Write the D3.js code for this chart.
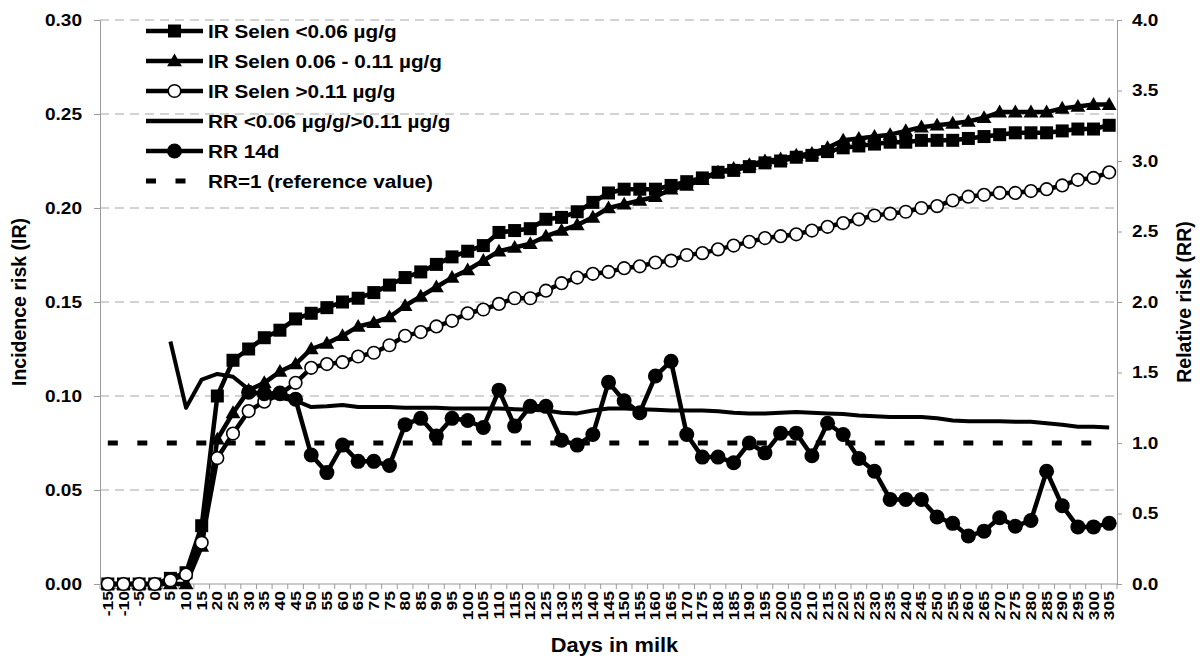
<!DOCTYPE html>
<html><head><meta charset="utf-8">
<script src="https://cdn.jsdelivr.net/npm/d3@7"></script>
<style>
html,body{margin:0;padding:0;background:#fff;}
svg{display:block;font-family:"Liberation Sans",Arial,sans-serif;font-weight:bold;}
</style></head><body>
<svg id="chart" width="1200" height="663"></svg>
<script>
// ---------- data ----------
const categories = [-15,-10,-5,0,5,10,15,20,25,30,35,40,45,50,55,60,65,70,75,80,85,90,95,100,105,110,115,120,125,130,135,140,145,150,155,160,165,170,175,180,185,190,195,200,205,210,215,220,225,230,235,240,245,250,255,260,265,270,275,280,285,290,295,300,305];

const irLow = [0,0,0,0,0.003,0.006,0.031,0.100,0.119,0.125,0.131,0.135,0.141,0.144,0.147,0.150,0.152,0.155,0.159,0.163,0.166,0.170,0.174,0.177,0.180,0.187,0.188,0.189,0.194,0.195,0.198,0.203,0.208,0.210,0.210,0.210,0.212,0.214,0.216,0.219,0.220,0.222,0.224,0.225,0.227,0.228,0.230,0.232,0.233,0.234,0.235,0.235,0.236,0.236,0.236,0.237,0.238,0.239,0.240,0.240,0.240,0.241,0.242,0.242,0.244];

const irMid = [0,0,0,0,0,0,0.020,0.077,0.091,0.103,0.107,0.113,0.117,0.125,0.128,0.132,0.137,0.139,0.142,0.148,0.153,0.158,0.163,0.167,0.172,0.177,0.179,0.181,0.185,0.188,0.191,0.195,0.200,0.202,0.204,0.206,0.210,0.212,0.215,0.219,0.221,0.223,0.225,0.226,0.228,0.229,0.232,0.236,0.237,0.238,0.239,0.241,0.243,0.244,0.245,0.246,0.248,0.251,0.251,0.251,0.251,0.253,0.254,0.255,0.255];

const irHigh = [0,0,0,0,0.002,0.005,0.022,0.067,0.080,0.092,0.097,0.101,0.107,0.115,0.117,0.118,0.121,0.123,0.127,0.132,0.134,0.137,0.140,0.144,0.146,0.149,0.152,0.152,0.156,0.160,0.163,0.165,0.166,0.168,0.169,0.171,0.172,0.175,0.176,0.178,0.180,0.182,0.184,0.185,0.186,0.188,0.190,0.192,0.194,0.196,0.197,0.198,0.200,0.201,0.204,0.206,0.207,0.208,0.208,0.209,0.210,0.212,0.215,0.216,0.219];

const rrLowHigh = [null,null,null,null,1.72,1.25,1.45,1.49,1.47,1.38,1.33,1.32,1.30,1.255,1.26,1.27,1.255,1.255,1.255,1.25,1.25,1.25,1.245,1.245,1.245,1.245,1.24,1.235,1.23,1.215,1.21,1.23,1.245,1.245,1.24,1.235,1.23,1.23,1.23,1.225,1.215,1.21,1.21,1.215,1.22,1.215,1.21,1.205,1.195,1.19,1.185,1.185,1.185,1.175,1.16,1.155,1.155,1.155,1.15,1.15,1.14,1.13,1.115,1.115,1.11];

const rr14d = [null,null,null,null,null,null,null,null,null,1.36,1.35,1.355,1.31,0.915,0.79,0.985,0.87,0.87,0.84,1.13,1.175,1.05,1.175,1.16,1.11,1.375,1.12,1.26,1.26,1.02,0.985,1.06,1.43,1.30,1.215,1.475,1.58,1.06,0.90,0.90,0.86,1.0,0.93,1.07,1.07,0.91,1.14,1.06,0.89,0.80,0.60,0.60,0.60,0.475,0.43,0.34,0.375,0.47,0.41,0.45,0.80,0.555,0.405,0.405,0.43];

const rrReference = 1;

const leftTicks = [0,0.05,0.10,0.15,0.20,0.25,0.30];
const rightTicks = [0,0.5,1.0,1.5,2.0,2.5,3.0,3.5,4.0];
const legendLabels = ["IR Selen <0.06 µg/g","IR Selen 0.06 - 0.11 µg/g","IR Selen >0.11 µg/g","RR <0.06 µg/g/>0.11 µg/g","RR 14d","RR=1 (reference value)"];
const leftTitle = "Incidence risk (IR)";
const rightTitle = "Relative risk (RR)";
const bottomTitle = "Days in milk";

// ---------- layout ----------
const svg = d3.select("#chart");
const L = 100, R = 1117, T = 20, B = 584;
const gridColor = "#a6a6a6";
const axisColor = "#9a9a9a";
const SX = 1.12; // horizontal text stretch seen in reference

const x = d3.scaleBand().domain(categories).range([L, R]).padding(0);
const cx = d => x(d) + x.bandwidth() / 2;
const yL = d3.scaleLinear().domain([0, 0.30]).range([B, T]);
const yR = d3.scaleLinear().domain([0, 4]).range([B, T]);

// gridlines
svg.append("g").selectAll("line").data(leftTicks.filter(t => t > 0)).join("line")
  .attr("x1", L).attr("x2", R).attr("y1", d => yL(d)).attr("y2", d => yL(d))
  .attr("stroke", gridColor).attr("stroke-width", 1).attr("stroke-dasharray", "9,6");

// left axis
const gLeft = svg.append("g").attr("transform", `translate(${L},0)`)
  .call(d3.axisLeft(yL).tickValues(leftTicks).tickFormat(d3.format(".2f")).tickSize(6).tickPadding(12));
gLeft.select(".domain").attr("stroke", axisColor);
gLeft.selectAll(".tick line").attr("stroke", axisColor);
gLeft.selectAll(".tick text").attr("font-size", 17).attr("font-family", null).attr("fill", "#000")
  .attr("transform", `translate(-18,0) scale(${SX},1) translate(18,0)`);

// right axis
const gRight = svg.append("g").attr("transform", `translate(${R},0)`)
  .call(d3.axisRight(yR).tickValues(rightTicks).tickFormat(d3.format(".1f")).tickSize(5).tickPadding(10));
gRight.select(".domain").attr("stroke", axisColor);
gRight.selectAll(".tick line").attr("stroke", axisColor);
gRight.selectAll(".tick text").attr("font-size", 17).attr("font-family", null).attr("fill", "#000")
  .attr("transform", `translate(15,0) scale(${SX},1) translate(-15,0)`);

// bottom axis line + boundary ticks
svg.append("line").attr("x1", L).attr("x2", R).attr("y1", B).attr("y2", B).attr("stroke", axisColor);
const bounds = categories.map(d => x(d)).concat([x.range()[1]]);
svg.append("g").selectAll("line").data(bounds).join("line")
  .attr("x1", d => d).attr("x2", d => d).attr("y1", B).attr("y2", B + 5).attr("stroke", axisColor);

// category labels (rotated, narrow)
svg.append("g").selectAll("text").data(categories).join("text")
  .attr("transform", d => `translate(${cx(d)},${B + 7}) rotate(-90) scale(1.25,1)`)
  .attr("text-anchor", "end").attr("dy", "0.36em")
  .attr("font-size", 14).text(d => String(d));

// titles
svg.append("text").attr("transform", `translate(${(L + R) / 2 + 6},652) scale(${SX},1)`)
  .attr("text-anchor", "middle").attr("font-size", 19.5).text(bottomTitle);
svg.append("text").attr("transform", `translate(26,${(T + B) / 2}) rotate(-90)`)
  .attr("text-anchor", "middle").attr("font-size", 19.5).text(leftTitle);
svg.append("text").attr("transform", `translate(1191,${(T + B) / 2}) rotate(-90)`)
  .attr("text-anchor", "middle").attr("font-size", 19.5).text(rightTitle);

// ---------- series ----------
const LW = 4.5;
const lineOf = (ys) => d3.line().defined(v => v != null)
  .x((v, i) => cx(categories[i])).y(v => ys(v));

function markers(g, vals, ys, kind) {
  const pts = vals.map((v, i) => ({ x: cx(categories[i]), v })).filter(p => p.v != null);
  drawMarker(g, pts.map(p => [p.x, ys(p.v)]), kind);
}
function drawMarker(g, pts, kind) {
  if (kind === "square") {
    g.selectAll(null).data(pts).join("rect")
      .attr("x", d => d[0] - 6.5).attr("y", d => d[1] - 6.5).attr("width", 13).attr("height", 13).attr("fill", "#000");
  } else if (kind === "triangle") {
    const sym = d3.symbol(d3.symbolTriangle, 95);
    g.selectAll(null).data(pts).join("path")
      .attr("d", sym).attr("transform", d => `translate(${d[0]},${d[1] + 1})`).attr("fill", "#000");
  } else if (kind === "open") {
    g.selectAll(null).data(pts).join("circle")
      .attr("cx", d => d[0]).attr("cy", d => d[1]).attr("r", 6.3).attr("fill", "#fff").attr("stroke", "#000").attr("stroke-width", 1.6);
  } else if (kind === "filled") {
    g.selectAll(null).data(pts).join("circle")
      .attr("cx", d => d[0]).attr("cy", d => d[1]).attr("r", 7.5).attr("fill", "#000");
  }
}

const plot = svg.append("g");
function series(vals, ys, kind, lw) {
  const g = plot.append("g");
  g.append("path").datum(vals).attr("d", lineOf(ys)).attr("fill", "none")
    .attr("stroke", "#000").attr("stroke-width", lw).attr("stroke-linejoin", "round");
  if (kind) markers(g, vals, ys, kind);
}
series(irMid, yL, "triangle", LW);
series(irLow, yL, "square", LW);
series(irHigh, yL, "open", LW);
series(rrLowHigh, yR, null, 4);
series(rr14d, yR, "filled", LW);

// reference RR=1 line
const refVals = categories.map(() => rrReference);
plot.append("path").datum(refVals).attr("d", lineOf(yR)).attr("fill", "none")
  .attr("stroke", "#000").attr("stroke-width", 5).attr("stroke-dasharray", "10,19.5");

// ---------- legend ----------
const legKinds = ["square", "triangle", "open", null, "filled", "dash"];
const leg = svg.append("g");
legendLabels.forEach((lab, i) => {
  const yy = 31 + i * 30;
  const g = leg.append("g");
  const ln = g.append("line").attr("x1", 146).attr("x2", 203).attr("y1", yy).attr("y2", yy)
    .attr("stroke", "#000").attr("stroke-width", legKinds[i] === "dash" ? 5 : LW);
  if (legKinds[i] === "dash") ln.attr("stroke-dasharray", "10,19.5");
  else if (legKinds[i]) drawMarker(g, [[174.5, yy]], legKinds[i]);
  g.append("text").attr("transform", `translate(208,${yy}) scale(${SX},1)`)
    .attr("dy", "0.36em").attr("font-size", 18.5).text(lab);
});
</script>
</body></html>
